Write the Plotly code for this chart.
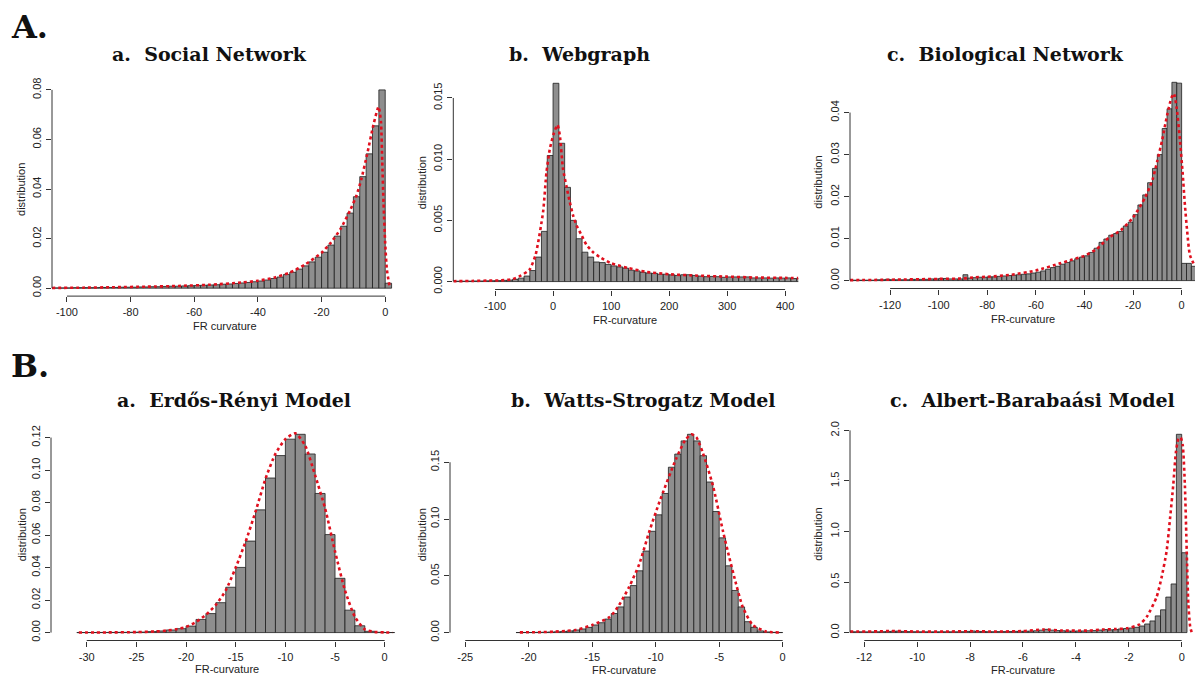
import plotly.graph_objects as go

# ======================= DATA =======================
# A.a  Social Network  (bins of width 2, first bin starts at -104)
social_bin_start = -104
social_bin_width = 2
social_hist = [0.0001, 0.0001, 0.0001, 0.0002, 0.0002, 0.0002, 0.0002, 0.0003, 0.0003, 0.0003,
               0.0004, 0.0004, 0.0004, 0.0005, 0.0005, 0.0006, 0.0006, 0.0007, 0.0008, 0.0008,
               0.0009, 0.0010, 0.0011, 0.0012, 0.0013, 0.0014, 0.0016, 0.0017, 0.0019, 0.0021,
               0.0023, 0.0026, 0.0029, 0.0033, 0.0039, 0.0045, 0.0055, 0.0064, 0.0077, 0.0090,
               0.0106, 0.0125, 0.0145, 0.0174, 0.0210, 0.0250, 0.0303, 0.0369, 0.0450, 0.0542,
               0.0655, 0.0800, 0.0020]
social_kde_x = [-104.7, -95, -85, -75, -65, -55, -45, -40, -35, -30, -25, -20, -17, -14, -11, -9,
                -7.5, -5.7, -3.7, -2.1, -1.35, -0.94, -0.52, 0, 0.52, 1.35]
social_kde_y = [0.0001, 0.0002, 0.0004, 0.0006, 0.0009, 0.0014, 0.0023, 0.0030, 0.0042, 0.0063,
                0.0097, 0.0143, 0.0185, 0.0240, 0.0315, 0.0375, 0.0440, 0.0539, 0.0659, 0.0732,
                0.0672, 0.0513, 0.0340, 0.0180, 0.0075, 0.0008]

# A.b  Webgraph  (bins of width 10, first bin starts at -170)
web_bin_start = -170
web_bin_width = 10
web_hist = [0.00003, 0.00003, 0.00004, 0.00005, 0.00005, 0.00006, 0.00007, 0.00008, 0.0001, 0.00012,
            0.00018, 0.00028, 0.00045, 0.0009, 0.0020, 0.0041, 0.0103, 0.0162, 0.0113, 0.0077,
            0.0050, 0.0035, 0.0024, 0.0020, 0.0016, 0.00155, 0.0014, 0.00128, 0.0012, 0.0011,
            0.00093, 0.00087, 0.00075, 0.0007, 0.00067, 0.0006, 0.0006, 0.00055, 0.0005, 0.00056,
            0.00056, 0.0005, 0.00045, 0.0004, 0.00042, 0.0004, 0.00035, 0.00038, 0.00038, 0.00038,
            0.00038, 0.0003, 0.0003, 0.0003, 0.00028, 0.0003, 0.00028, 0.0003, 0.00025, 0.00025]
web_kde_x = [-172, -140, -110, -90, -70, -55, -45, -40, -30, -17.2, -11.4, -5.7, 1.2, 7.6, 11.5,
             17.2, 23, 28.8, 34.5, 40.3, 49, 57.6, 69, 80.5, 100, 130, 160, 200, 250, 300, 350,
             400, 423]
web_kde_y = [0.00003, 0.00005, 0.00008, 0.0001, 0.0002, 0.0005, 0.0008, 0.0010, 0.0022, 0.0057,
             0.0089, 0.0108, 0.0121, 0.0128, 0.0120, 0.0092, 0.0078, 0.0065, 0.0054, 0.0046,
             0.0038, 0.0030, 0.0024, 0.0020, 0.0015, 0.0011, 0.0008, 0.0006, 0.00048, 0.0004,
             0.00033, 0.0003, 0.00028]

# A.c  Biological Network  (bins of width 2, first bin starts at -136)
bio_bin_start = -136
bio_bin_width = 2
bio_hist = [0.0001, 0.0001, 0.0001, 0.0001, 0.0001, 0.0002, 0.0002, 0.0003, 0.0002, 0.0002,
            0.0002, 0.0002, 0.0003, 0.0003, 0.0003, 0.0003, 0.0004, 0.0004, 0.0005, 0.0005,
            0.0004, 0.0004, 0.0004, 0.0014, 0.0006, 0.0007, 0.0008, 0.0008, 0.0009, 0.0009,
            0.0010, 0.0011, 0.0012, 0.0013, 0.0014, 0.0015, 0.0016, 0.0018, 0.0020, 0.0023,
            0.0027, 0.0031, 0.0034, 0.0039, 0.0043, 0.0047, 0.0052, 0.0056, 0.0059, 0.0067,
            0.0077, 0.0091, 0.0099, 0.0108, 0.0112, 0.0117, 0.0130, 0.0139, 0.0157, 0.0180,
            0.0204, 0.0233, 0.0267, 0.0300, 0.0362, 0.0409, 0.0472, 0.0470, 0.0041, 0.0041,
            0.0034]
bio_kde_x = [-136.5, -120, -100, -90, -85, -80, -70, -60, -50, -45, -40, -35, -30, -25, -20, -15,
             -12, -10, -8, -6, -4.2, -3.2, -2.1, -0.7, 0.4, 1.36, 2.3, 3.4, 5.5]
bio_kde_y = [0.0001, 0.0002, 0.0004, 0.0005, 0.0008, 0.0009, 0.0014, 0.0024, 0.0041, 0.0050,
             0.0059, 0.0075, 0.0102, 0.0120, 0.0150, 0.0198, 0.0240, 0.0285, 0.0335, 0.0393,
             0.0435, 0.0445, 0.0413, 0.0335, 0.0257, 0.0179, 0.0116, 0.0061, 0.0034]

# B.a  Erdos-Renyi  (bins of width 1, first bin starts at -31)
er_bin_start = -31
er_bin_width = 1
er_hist = [0.00003, 0.00005, 0.00008, 0.0001, 0.00015, 0.0002, 0.0003, 0.0006, 0.0010, 0.0016,
           0.0024, 0.0040, 0.0081, 0.0117, 0.0184, 0.0279, 0.0401, 0.0563, 0.0755, 0.0951,
           0.1089, 0.1190, 0.1220, 0.1099, 0.0856, 0.0603, 0.0334, 0.0138, 0.0042, 0.0008,
           0.0002, 0.00005]
er_kde_x = [-30.8, -28, -25, -23, -22, -21, -20, -19, -18, -17, -16, -15, -14, -13, -12, -11,
            -10, -9, -8, -7, -6, -5, -4, -3, -2, -1, 0, 0.8]
er_kde_y = [0.00003, 0.0001, 0.0003, 0.0007, 0.0012, 0.0020, 0.0035, 0.0065, 0.0110, 0.0170,
            0.0260, 0.0400, 0.0560, 0.0745, 0.0947, 0.1100, 0.1190, 0.1226, 0.1150, 0.0967,
            0.0765, 0.0500, 0.0260, 0.0097, 0.0020, 0.0004, 0.0001, 0.00003]

# B.b  Watts-Strogatz  (bins of width 0.5, first bin starts at -21)
ws_bin_start = -21
ws_bin_width = 0.5
ws_hist = [0.00005, 0.0001, 0.0001, 0.0002, 0.0003, 0.0005, 0.0007, 0.0010, 0.0015, 0.0023,
           0.0032, 0.0046, 0.0067, 0.0087, 0.0119, 0.0168, 0.0226, 0.0313, 0.0414, 0.0544,
           0.0718, 0.0892, 0.1037, 0.1225, 0.1456, 0.1572, 0.1688, 0.1746, 0.1688, 0.1558,
           0.1326, 0.1066, 0.0834, 0.0588, 0.0371, 0.0226, 0.0096, 0.0046, 0.0015, 0.0006,
           0.0002, 0.0001]
ws_kde_x = [-20.7, -19, -18, -17, -16.3, -15, -13.6, -12.9, -12.1, -11.3, -10.5, -9.7, -8.4,
            -7.7, -7.2, -6.8, -6.3, -5.5, -4.7, -4.2, -3.67, -3.15, -2.36, -1.3, -0.3]
ws_kde_y = [0.0002, 0.0004, 0.0008, 0.0015, 0.0023, 0.0067, 0.0139, 0.0240, 0.0400, 0.0602,
            0.0892, 0.1152, 0.1529, 0.1690, 0.1746, 0.1720, 0.1587, 0.1297, 0.0892, 0.0660,
            0.0428, 0.0226, 0.0067, 0.0009, 0.0001]

# B.c  Albert-Barabasi  (bins of width 0.2, first bin starts at -12.6)
ba_bin_start = -12.6
ba_bin_width = 0.2
ba_hist = [0.008, 0.008, 0.008, 0.007, 0.007, 0.008, 0.009, 0.011, 0.014, 0.015,
           0.012, 0.010, 0.009, 0.008, 0.008, 0.007, 0.007, 0.008, 0.008, 0.008,
           0.008, 0.009, 0.012, 0.016, 0.012, 0.010, 0.009, 0.009, 0.010, 0.010,
           0.011, 0.012, 0.013, 0.014, 0.015, 0.018, 0.024, 0.032, 0.024, 0.020,
           0.018, 0.016, 0.015, 0.016, 0.016, 0.018, 0.020, 0.025, 0.030, 0.027,
           0.030, 0.036, 0.040, 0.045, 0.052, 0.065, 0.085, 0.115, 0.165, 0.225,
           0.351, 0.481, 1.961, 0.790]
ba_kde_x = [-12.54, -11.5, -11, -10, -9, -8, -7, -6, -5.2, -4.5, -3.5, -3, -2.5, -2.08, -1.6,
            -1.32, -0.95, -0.76, -0.57, -0.44, -0.32, -0.22, -0.13, -0.04, 0.04, 0.12, 0.19,
            0.25, 0.32, 0.38]
ba_kde_y = [0.010, 0.012, 0.016, 0.010, 0.010, 0.014, 0.010, 0.015, 0.030, 0.020, 0.020, 0.030,
            0.035, 0.042, 0.080, 0.156, 0.351, 0.546, 0.806, 1.13, 1.457, 1.78, 1.91, 1.93,
            1.85, 1.46, 0.81, 0.29, 0.06, 0.0]

# tick labels
social_xticks = [-100, -80, -60, -40, -20, 0]
social_yticks = [0.00, 0.02, 0.04, 0.06, 0.08]
social_ytext = ["0.00", "0.02", "0.04", "0.06", "0.08"]
web_xticks = [-100, 0, 100, 200, 300, 400]
web_yticks = [0.000, 0.005, 0.010, 0.015]
web_ytext = ["0.000", "0.005", "0.010", "0.015"]
bio_xticks = [-120, -100, -80, -60, -40, -20, 0]
bio_yticks = [0.00, 0.01, 0.02, 0.03, 0.04]
bio_ytext = ["0.00", "0.01", "0.02", "0.03", "0.04"]
er_xticks = [-30, -25, -20, -15, -10, -5, 0]
er_yticks = [0.00, 0.02, 0.04, 0.06, 0.08, 0.10, 0.12]
er_ytext = ["0.00", "0.02", "0.04", "0.06", "0.08", "0.10", "0.12"]
ws_xticks = [-25, -20, -15, -10, -5, 0]
ws_yticks = [0.00, 0.05, 0.10, 0.15]
ws_ytext = ["0.00", "0.05", "0.10", "0.15"]
ba_xticks = [-12, -10, -8, -6, -4, -2, 0]
ba_yticks = [0.0, 0.5, 1.0, 1.5, 2.0]
ba_ytext = ["0.0", "0.5", "1.0", "1.5", "2.0"]

titles = ["a.  Social Network", "b.  Webgraph", "c.  Biological Network",
          "a.  Erdős-Rényi Model", "b.  Watts-Strogatz Model", "c.  Albert-Barabaási Model"]
xtitles = ["FR curvature", "FR-curvature", "FR-curvature",
           "FR-curvature", "FR-curvature", "FR-curvature"]

# ======================= LAYOUT =======================
W, H = 1201, 683
BAR_FILL = "#8e8e8e"
BAR_EDGE = "#1e1e1e"
AXIS_COL = "#333333"
TXT_COL = "#222222"
RED = "#e0101e"
SANS = "Liberation Sans, Arial, sans-serif"
SERIF = "DejaVu Serif, serif"

panels = [
    dict(h=social_hist, s=social_bin_start, w=social_bin_width, kx=social_kde_x, ky=social_kde_y,
         xt=social_xticks, yt=social_yticks, ytt=social_ytext, xr=[-104.7, 3.7],
         px=(52, 397, 295), title=(209.7, 50), ylab=(21.7, 186.7), xlab=(225, 325)),
    dict(h=web_hist, s=web_bin_start, w=web_bin_width, kx=web_kde_x, ky=web_kde_y,
         xt=web_xticks, yt=web_yticks, ytt=web_ytext, xr=[-172, 422.8],
         px=(453.3, 798.3, 288.3), title=(579, 49.3), ylab=(421.7, 180), xlab=(625, 319.3)),
    dict(h=bio_hist, s=bio_bin_start, w=bio_bin_width, kx=bio_kde_x, ky=bio_kde_y,
         xt=bio_xticks, yt=bio_yticks, ytt=bio_ytext, xr=[-136.5, 5.5],
         px=(850, 1195, 287.3), title=(1005.7, 49.3), ylab=(818, 180), xlab=(1022.7, 318.3)),
    dict(h=er_hist, s=er_bin_start, w=er_bin_width, kx=er_kde_x, ky=er_kde_y,
         xt=er_xticks, yt=er_yticks, ytt=er_ytext, xr=[-33.6, 1.14],
         px=(51, 396, 644), title=(234, 400), ylab=(21.7, 536.7), xlab=(226.7, 673.3)),
    dict(h=ws_hist, s=ws_bin_start, w=ws_bin_width, kx=ws_kde_x, ky=ws_kde_y,
         xt=ws_xticks, yt=ws_yticks, ytt=ws_ytext, xr=[-26.2, 0.97],
         px=(450, 795, 644), title=(643, 400), ylab=(421.7, 536.7), xlab=(624.3, 674.3)),
    dict(h=ba_hist, s=ba_bin_start, w=ba_bin_width, kx=ba_kde_x, ky=ba_kde_y,
         xt=ba_xticks, yt=ba_yticks, ytt=ba_ytext, xr=[-12.54, 0.503],
         px=(850, 1195, 644), title=(1032, 400), ylab=(818, 536.7), xlab=(1022.7, 674.3)),
]
PLOT_H = 217


def px2x(p):
    return p / W


def px2y(p):
    return 1 - p / H


fig = go.Figure()
layout = dict(width=W, height=H, margin=dict(l=0, r=0, t=0, b=0),
              paper_bgcolor="white", plot_bgcolor="white", showlegend=False,
              shapes=[], annotations=[])

for i, p in enumerate(panels, start=1):
    xa = "x" if i == 1 else f"x{i}"
    ya = "y" if i == 1 else f"y{i}"
    centers = [p["s"] + p["w"] * (k + 0.5) for k in range(len(p["h"]))]
    fig.add_trace(go.Bar(x=centers, y=p["h"], width=p["w"], xaxis=xa, yaxis=ya,
                         marker=dict(color=BAR_FILL, line=dict(color=BAR_EDGE, width=0.8)),
                         hoverinfo="skip"))
    fig.add_trace(go.Scatter(x=p["kx"], y=p["ky"], mode="lines", xaxis=xa, yaxis=ya,
                             line=dict(color=RED, width=2.6, dash="dot", shape="spline",
                                       smoothing=0.6),
                             hoverinfo="skip"))
    M = max(p["h"])
    left, right, bottom = p["px"]
    top = bottom - PLOT_H
    xkey = "xaxis" if i == 1 else f"xaxis{i}"
    ykey = "yaxis" if i == 1 else f"yaxis{i}"
    layout[xkey] = dict(domain=[px2x(left), px2x(right)], range=p["xr"], anchor=ya,
                        showgrid=False, zeroline=False, showline=False,
                        ticks="outside", ticklen=5, tickwidth=1, tickcolor=AXIS_COL,
                        tickvals=p["xt"], ticktext=[str(v) for v in p["xt"]],
                        tickfont=dict(family=SANS, size=11, color=TXT_COL),
                        ticklabelstandoff=1)
    layout[ykey] = dict(domain=[px2y(bottom), px2y(top)], range=[-0.04 * M, 1.04 * M],
                        anchor=xa, showgrid=False, zeroline=False, showline=False,
                        ticks="outside", ticklen=5, tickwidth=1, tickcolor=AXIS_COL,
                        tickvals=p["yt"], ticktext=p["ytt"], tickangle=-90,
                        tickfont=dict(family=SANS, size=11, color=TXT_COL),
                        ticklabelstandoff=1)
    # R-style axis lines spanning first..last tick
    layout["shapes"].append(dict(type="line", xref=xa, yref=f"{ya} domain",
                                 x0=p["xt"][0], x1=p["xt"][-1], y0=0, y1=0,
                                 line=dict(color=AXIS_COL, width=1)))
    layout["shapes"].append(dict(type="line", xref=f"{xa} domain", yref=ya,
                                 x0=0, x1=0, y0=p["yt"][0], y1=p["yt"][-1],
                                 line=dict(color=AXIS_COL, width=1)))
    # titles
    tx, ty = p["title"]
    layout["annotations"].append(dict(text=f"<b>{titles[i-1]}</b>", x=px2x(tx), y=px2y(ty),
                                      xref="paper", yref="paper", showarrow=False,
                                      xanchor="center", yanchor="middle",
                                      font=dict(family=SERIF, size=19, color="#111")))
    lx, ly = p["ylab"]
    layout["annotations"].append(dict(text="distribution", x=px2x(lx), y=px2y(ly),
                                      xref="paper", yref="paper", showarrow=False,
                                      textangle=-90, xanchor="center", yanchor="middle",
                                      font=dict(family=SANS, size=11, color=TXT_COL)))
    bx, by = p["xlab"]
    layout["annotations"].append(dict(text=xtitles[i-1], x=px2x(bx), y=px2y(by),
                                      xref="paper", yref="paper", showarrow=False,
                                      xanchor="center", yanchor="middle",
                                      font=dict(family=SANS, size=11, color=TXT_COL)))

for label, cy in (("A.", 22), ("B.", 366)):
    layout["annotations"].append(dict(text=f"<b>{label}</b>", x=px2x(9), y=px2y(cy),
                                      xref="paper", yref="paper", showarrow=False,
                                      xanchor="left", yanchor="middle",
                                      font=dict(family=SERIF, size=32, color="#111")))

fig.update_layout(**layout)
fig.write_html("out.html")
